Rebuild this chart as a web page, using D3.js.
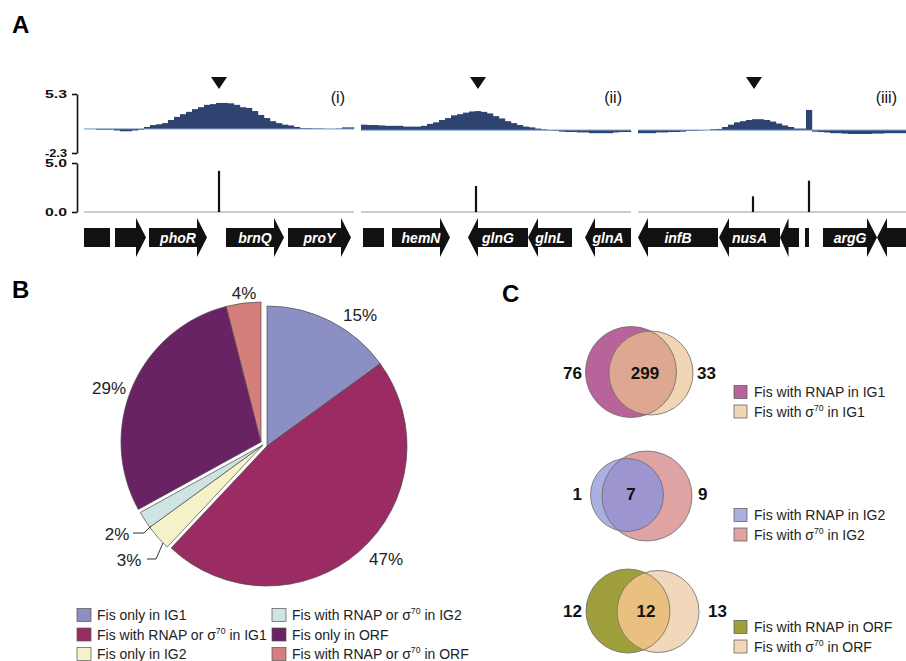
<!DOCTYPE html>
<html>
<head>
<meta charset="utf-8">
<script src="https://cdn.jsdelivr.net/npm/d3@7"></script>
<style>
  body { margin: 0; background: #fff; }
  svg { font-family: "Liberation Sans", Arial, sans-serif; display: block; }
</style>
</head>
<body>
<div id="figure"></div>
<script>
// ---------- panel A: ChIP-chip profiles, peak calls and genes ----------
const trackNames = ["(i)", "(ii)", "(iii)"];
const trackLength = 2700;   // bp shown in each window
const profileStep = 60;     // bp between probes

const profileI = [0.8, 0.8, 0.7, 0.7, 0.7, 0.6, 0.5, 0.5, 0.6, 0.7,
  1.05, 1.3, 1.4, 1.55, 1.95, 2.35, 2.7, 3.0, 3.35, 3.6,
  3.9, 4.0, 4.15, 4.15, 4.1, 3.9, 3.6, 3.5, 3.1, 2.6,
  2.2, 1.8, 1.55, 1.35, 1.25, 1.05, 0.9, 0.9, 0.85, 0.85,
  0.8, 0.8, 0.85, 1.0, 1.0];
const profileII = [1.35, 1.3, 1.3, 1.25, 1.2, 1.2, 1.2, 1.1, 1.1, 1.1,
  1.2, 1.45, 1.65, 1.95, 2.2, 2.55, 2.7, 2.9, 3.05, 3.1,
  3.0, 2.8, 2.45, 2.15, 1.8, 1.55, 1.3, 1.1, 1.0, 0.85,
  0.75, 0.6, 0.55, 0.45, 0.4, 0.4, 0.35, 0.35, 0.25, 0.25,
  0.25, 0.25, 0.35, 0.4, 0.4];
const profileIII = [0.25, 0.25, 0.25, 0.35, 0.35, 0.4, 0.4, 0.45, 0.55, 0.55,
  0.6, 0.65, 0.75, 0.8, 1.05, 1.35, 1.65, 1.8, 1.95, 2.05,
  2.05, 1.95, 1.75, 1.5, 1.25, 1.05, 0.85, 0.85, 3.25, 0.45,
  0.4, 0.35, 0.25, 0.25, 0.2, 0.15, 0.15, 0.15, 0.15, 0.2,
  0.2, 0.25, 0.25, 0.25, 0.25];
const profiles = [profileI, profileII, profileIII];
const profileBase = [0.8, 0.65, 0.65];
const profileTicks = [5.3, -2.3];

const peakTicks = [5.0, 0.0];
const peakTrack = [0, 1, 2, 2];
const peakPos = [1350, 1150, 1150, 1710];
const peakScore = [4.2, 2.65, 1.6, 3.2];
const summitPos = [1350, 1170, 1160];

const genesI = [
  { name: "", start: 0, end: 260, strand: 0 },
  { name: "", start: 310, end: 620, strand: 1 },
  { name: "phoR", start: 650, end: 1230, strand: 1 },
  { name: "brnQ", start: 1420, end: 2000, strand: 1 },
  { name: "proY", start: 2040, end: 2670, strand: 1 }
];
const genesII = [
  { name: "", start: 20, end: 230, strand: 0 },
  { name: "hemN", start: 310, end: 890, strand: 1 },
  { name: "glnG", start: 1070, end: 1670, strand: -1 },
  { name: "glnL", start: 1670, end: 2110, strand: -1 },
  { name: "glnA", start: 2240, end: 2700, strand: -1 }
];
const genesIII = [
  { name: "infB", start: 0, end: 800, strand: -1 },
  { name: "nusA", start: 810, end: 1420, strand: -1 },
  { name: "", start: 1420, end: 1610, strand: -1 },
  { name: "", start: 1670, end: 1710, strand: 0 },
  { name: "argG", start: 1850, end: 2390, strand: 1 },
  { name: "", start: 2390, end: 2700, strand: -1 }
];
const genes = [genesI, genesII, genesIII];

// ---------- panel B: pie ----------
const pieLabels = ["Fis only in IG1", "Fis with RNAP or σ70 in IG1", "Fis only in IG2",
  "Fis with RNAP or σ70 in IG2", "Fis only in ORF", "Fis with RNAP or σ70 in ORF"];
const piePercent = [15, 47, 3, 2, 29, 4];

// ---------- panel C: venn ----------
const vennRegion = ["IG1", "IG2", "ORF"];
const vennOnlyRNAP = [76, 1, 12];
const vennBoth = [299, 7, 12];
const vennOnlySigma = [33, 9, 13];

// ---------- styles / layout ----------
const W = 906, H = 661;
const trackRange = [[84, 354], [361, 631], [638, 908]];
const pieColors = ["#8c8fc4", "#9a2b63", "#f5f1c8", "#cde4e2", "#692263", "#d47f7b"];
const sliceOffset = [[3, 1], [3, 1], [-1, 0], [-1, 0], [-3, -3], [-3, -3]];
const pieLabelPos = [[96, -130], [122, 114], [-135, 115], [-147, 89], [-155, -57], [-20, -152]];
const pieLeaders = { 2: [[-117, 114], [-108, 114], [-101, 98]], 3: [[-131, 88], [-120, 88], [-113, 81]] };
const vennColors = [
  { a: "#b8649a", b: "#f1d6b6", ab: "#dea78f" },
  { a: "#aab0e0", b: "#e0a3a3", ab: "#9c95cf" },
  { a: "#9fa03c", b: "#f1d8bb", ab: "#e9c07f" }
];
const vennLayout = [
  { a: [631, 372, 45.5], b: [651, 373, 42], lx: [582, 645, 697], ly: 373, legY: 392 },
  { a: [627, 495, 36.5], b: [647, 496, 45], lx: [582, 631, 698], ly: 494, legY: 515 },
  { a: [628, 611, 42], b: [658, 611.5, 41], lx: [582, 646, 708], ly: 611, legY: 627 }
];

const svg = d3.select("#figure").append("svg")
  .attr("width", W).attr("height", H);

function panelLabel(txt, x, y) {
  svg.append("text").attr("x", x).attr("y", y)
    .attr("font-size", 24).attr("font-weight", "bold").text(txt);
}

// writes "σ70" with a superscript 70
function sigmaText(sel, label) {
  const parts = label.split("σ70");
  sel.append("tspan").text(parts[0]);
  if (parts.length > 1) {
    sel.append("tspan").text("σ");
    sel.append("tspan").attr("font-size", "0.62em").attr("dy", -6).text("70");
    sel.append("tspan").attr("dy", 6).text(parts[1]);
  }
}

// ===== A =====
panelLabel("A", 12, 33);

const yProf = d3.scaleLinear().domain([-2.3, 5.3]).range([153, 94]);
const yPeak = d3.scaleLinear().domain([0, 5]).range([212, 163]);

function bracket(scale, ticks) {
  const g = svg.append("g").attr("transform", "translate(77,0)")
    .call(d3.axisLeft(scale).tickValues(ticks).tickFormat(d => d.toFixed(1))
      .tickSizeInner(5).tickSizeOuter(0).tickPadding(5));
  g.selectAll("path, line").attr("stroke", "#111").attr("stroke-width", 1.6);
  g.selectAll("text").attr("font-size", 11.5).attr("font-weight", "bold")
    .attr("font-family", "Liberation Sans, Arial, sans-serif").attr("fill", "#111")
    .attr("textLength", 22).attr("lengthAdjust", "spacingAndGlyphs");
}
bracket(yProf, profileTicks);
bracket(yPeak, peakTicks);

const geneY = 237.5, bodyH = 19, headOver = 10, headLen = 10;
function genePath(g, x) {
  const x0 = x(g.start), x1 = x(g.end);
  const top = geneY - bodyH / 2, bot = geneY + bodyH / 2;
  const hTop = top - headOver, hBot = bot + headOver;
  if (g.strand === 0) return `M${x0},${top}H${x1}V${bot}H${x0}Z`;
  const h = Math.min(headLen, (x1 - x0) * 0.45);
  if (g.strand > 0) {
    const xh = x1 - h;
    return `M${x0},${top}H${xh}V${hTop}L${x1},${geneY}L${xh},${hBot}V${bot}H${x0}Z`;
  }
  const xh = x0 + h;
  return `M${x1},${top}H${xh}V${hTop}L${x0},${geneY}L${xh},${hBot}V${bot}H${x1}Z`;
}

trackNames.forEach((name, t) => {
  const x = d3.scaleLinear().domain([0, trackLength]).range(trackRange[t]);
  const g = svg.append("g");
  const base = profileBase[t];

  // profile bars
  g.selectAll("rect.probe")
    .data(profiles[t])
    .enter().append("rect")
    .attr("class", "probe")
    .attr("x", (d, i) => x(i * profileStep))
    .attr("width", (d, i) => x((i + 1) * profileStep) - x(i * profileStep) + 0.2)
    .attr("y", d => Math.min(yProf(d), yProf(base)))
    .attr("height", d => Math.abs(yProf(d) - yProf(base)))
    .attr("fill", "#2f4371");
  g.append("line")
    .attr("x1", trackRange[t][0]).attr("x2", Math.min(trackRange[t][1], W))
    .attr("y1", yProf(base)).attr("y2", yProf(base))
    .attr("stroke", "#7296c8").attr("stroke-width", 1);

  // summit marker
  const sx = x(summitPos[t]);
  g.append("path")
    .attr("d", `M${sx - 8},77L${sx + 8},77L${sx},89Z`)
    .attr("fill", "#111");

  g.append("text")
    .attr("x", Math.min(trackRange[t][1], W) - 9).attr("y", 103)
    .attr("text-anchor", "end").attr("font-size", 16).attr("fill", "#111")
    .text(name);

  // peak calls
  g.append("line")
    .attr("x1", trackRange[t][0]).attr("x2", Math.min(trackRange[t][1], W))
    .attr("y1", yPeak(0)).attr("y2", yPeak(0))
    .attr("stroke", "#9a9a9a").attr("stroke-width", 1);
  const idx = peakTrack.map((tr, i) => tr === t ? i : -1).filter(i => i >= 0);
  g.selectAll("line.peak")
    .data(idx)
    .enter().append("line")
    .attr("class", "peak")
    .attr("x1", i => x(peakPos[i])).attr("x2", i => x(peakPos[i]))
    .attr("y1", yPeak(0)).attr("y2", i => yPeak(peakScore[i]))
    .attr("stroke", "#111").attr("stroke-width", 2.2);

  // genes
  g.selectAll("path.gene")
    .data(genes[t])
    .enter().append("path")
    .attr("class", "gene")
    .attr("d", d => genePath(d, x))
    .attr("fill", "#111");
  g.selectAll("text.gene")
    .data(genes[t].filter(d => d.name))
    .enter().append("text")
    .attr("class", "gene")
    .attr("x", d => (x(d.start) + x(d.end)) / 2)
    .attr("y", geneY).attr("dy", "0.36em")
    .attr("text-anchor", "middle")
    .attr("font-size", 14).attr("font-weight", "bold").attr("font-style", "italic")
    .attr("fill", "#fff")
    .text(d => d.name);
});

// ===== B =====
panelLabel("B", 12, 298);

const pieCx = 264, pieCy = 445, pieR = 140;
const pieArcs = d3.pie().sort(null).value(d => d)(piePercent);
const arc = d3.arc().innerRadius(0).outerRadius(pieR);
const pieG = svg.append("g").attr("transform", `translate(${pieCx},${pieCy})`);

pieG.selectAll("path.slice")
  .data(pieArcs)
  .enter().append("path")
  .attr("class", "slice")
  .attr("transform", (d, i) => `translate(${sliceOffset[i][0]},${sliceOffset[i][1]})`)
  .attr("d", arc)
  .attr("fill", (d, i) => pieColors[i])
  .attr("stroke", "#4a4a4a").attr("stroke-width", 0.7);

pieG.selectAll("text.pct")
  .data(pieArcs)
  .enter().append("text")
  .attr("class", "pct")
  .attr("x", (d, i) => pieLabelPos[i][0])
  .attr("y", (d, i) => pieLabelPos[i][1])
  .attr("dy", "0.36em")
  .attr("text-anchor", "middle")
  .attr("font-size", 17).attr("fill", "#222")
  .text(d => d.data + "%");

Object.entries(pieLeaders).forEach(([i, pts]) => {
  pieG.append("path")
    .attr("d", d3.line()(pts))
    .attr("fill", "none").attr("stroke", "#333").attr("stroke-width", 1);
});

const legB = svg.append("g");
pieLabels.forEach((lab, i) => {
  const col = Math.floor(i / 3), row = i % 3;
  const lx = col === 0 ? 77 : 272;
  const ly = 615 + row * 19.5;
  legB.append("rect")
    .attr("x", lx).attr("y", ly - 6.5).attr("width", 14).attr("height", 13)
    .attr("fill", pieColors[i]).attr("stroke", "#555").attr("stroke-width", 0.7);
  const t = legB.append("text")
    .attr("x", lx + 20).attr("y", ly).attr("dy", "0.36em")
    .attr("font-size", 14).attr("fill", "#222");
  sigmaText(t, lab);
});

// ===== C =====
panelLabel("C", 502, 302);

vennRegion.forEach((reg, k) => {
  const L = vennLayout[k], C = vennColors[k];
  const g = svg.append("g");
  const clipId = "vennA" + k;
  g.append("clipPath").attr("id", clipId)
    .append("circle").attr("cx", L.a[0]).attr("cy", L.a[1]).attr("r", L.a[2]);

  g.append("circle").attr("cx", L.a[0]).attr("cy", L.a[1]).attr("r", L.a[2]).attr("fill", C.a);
  g.append("circle").attr("cx", L.b[0]).attr("cy", L.b[1]).attr("r", L.b[2]).attr("fill", C.b);
  g.append("circle").attr("cx", L.b[0]).attr("cy", L.b[1]).attr("r", L.b[2])
    .attr("fill", C.ab).attr("clip-path", `url(#${clipId})`);
  [L.a, L.b].forEach(c => {
    g.append("circle").attr("cx", c[0]).attr("cy", c[1]).attr("r", c[2])
      .attr("fill", "none").attr("stroke", "#6b6b6b").attr("stroke-width", 0.8);
  });

  const nums = [vennOnlyRNAP[k], vennBoth[k], vennOnlySigma[k]];
  const anchors = ["end", "middle", "start"];
  nums.forEach((n, j) => {
    g.append("text")
      .attr("x", L.lx[j]).attr("y", L.ly).attr("dy", "0.36em")
      .attr("text-anchor", anchors[j])
      .attr("font-size", 17).attr("font-weight", "bold").attr("fill", "#111")
      .text(n);
  });

  const legLabels = ["Fis with RNAP in " + reg, "Fis with σ70 in " + reg];
  legLabels.forEach((lab, j) => {
    const ly = L.legY + j * 19.5;
    g.append("rect")
      .attr("x", 734).attr("y", ly - 6.5).attr("width", 13).attr("height", 13)
      .attr("fill", j === 0 ? C.a : C.b).attr("stroke", "#555").attr("stroke-width", 0.7);
    const t = g.append("text")
      .attr("x", 754).attr("y", ly).attr("dy", "0.36em")
      .attr("font-size", 14).attr("fill", "#222");
    sigmaText(t, lab);
  });
});
</script>
</body>
</html>
